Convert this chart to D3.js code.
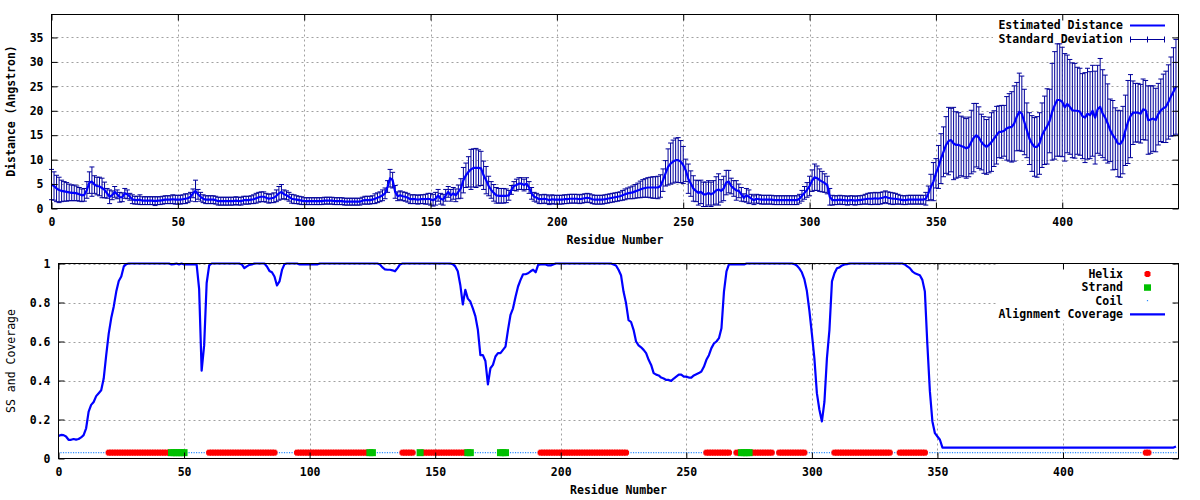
<!DOCTYPE html>
<html>
<head>
<meta charset="utf-8">
<script src="https://cdn.jsdelivr.net/npm/d3@7"></script>
<style>
  html, body { margin: 0; padding: 0; background: #fff; }
  svg { display: block; }
  text { font-family: "DejaVu Sans Mono", "Liberation Mono", monospace; font-size: 11.5px; font-weight: bold; fill: #000; }
</style>
</head>
<body>
<svg id="chart" width="1200" height="500"></svg>
<script>
// ---------------- DATA ----------------
const xTicks = [0, 50, 100, 150, 200, 250, 300, 350, 400];
const yTicksTop = [0, 5, 10, 15, 20, 25, 30, 35];
const yTicksBottom = [0, 0.2, 0.4, 0.6, 0.8, 1];
const yTickLabelsBottom = ["0", "0.2", "0.4", "0.6", "0.8", "1"];

const topLegend = ["Estimated Distance", "Standard Deviation"];
const bottomLegend = ["Helix", "Strand", "Coil", "Alignment Coverage"];

// Estimated distance per residue (0..445)
const distMean = [
4.9,4.6,4.1,3.8,3.6,3.5,3.4,3.3,3.2,3.2,
3.1,2.9,2.7,2.8,3.8,5.3,5.5,4.9,4.6,4.5,
4.2,3.8,3.1,2.4,2.7,3.4,2.9,2.3,2.3,3.1,
2.9,2.4,1.9,1.7,1.7,1.8,1.6,1.6,1.6,1.6,
1.6,1.5,1.6,1.6,1.7,1.8,1.8,1.8,1.9,1.8,
1.8,1.8,1.9,2.0,2.1,2.4,3.1,3.6,2.9,2.4,
2.0,1.8,1.8,1.8,1.8,1.7,1.5,1.5,1.5,1.5,
1.5,1.5,1.5,1.6,1.5,1.5,1.7,1.7,1.7,1.8,
1.9,2.1,2.3,2.4,2.4,2.2,2.0,2.1,2.2,2.6,
3.1,3.4,2.9,2.7,2.4,2.0,1.9,1.8,1.7,1.6,
1.5,1.5,1.5,1.5,1.5,1.5,1.5,1.5,1.6,1.6,
1.6,1.6,1.5,1.5,1.5,1.5,1.4,1.4,1.4,1.4,
1.4,1.4,1.4,1.6,1.7,1.7,1.7,1.8,2.0,2.2,
2.4,2.7,3.1,4.5,6.2,5.8,3.4,2.5,2.7,2.5,
2.4,2.2,1.9,1.9,1.9,1.8,1.9,1.9,1.9,2.0,
1.9,1.7,2.0,2.7,2.0,1.8,2.7,3.4,2.7,3.1,
2.7,3.4,4.1,5.8,6.8,7.5,8.0,8.3,8.3,8.3,
8.2,6.8,5.8,4.6,3.8,3.2,2.7,2.6,2.6,2.6,
2.6,2.7,3.8,4.6,4.8,5.1,5.1,4.8,5.1,4.3,
3.1,2.4,2.2,1.9,1.9,2.0,1.9,1.7,1.9,1.8,
1.8,1.8,1.8,1.9,1.9,2.0,2.0,2.0,2.0,1.9,
2.0,2.1,2.2,2.1,1.9,1.8,1.8,1.8,1.8,1.9,
2.0,2.1,2.2,2.3,2.4,2.5,2.7,2.9,3.1,3.2,
3.3,3.5,3.7,3.9,4.1,4.2,4.3,4.3,4.3,4.3,
4.3,4.6,5.8,7.2,8.5,9.2,9.6,9.9,9.9,9.6,
8.9,7.8,6.1,5.1,4.1,3.6,3.2,3.4,2.9,2.9,
3.2,2.9,3.2,3.7,3.9,3.6,4.1,5.3,5.5,4.6,
4.1,3.7,3.6,2.9,2.2,2.7,2.4,2.0,1.7,2.0,
1.9,1.8,1.8,1.8,1.8,1.8,1.7,1.7,1.7,1.7,
1.7,1.7,1.7,1.7,1.7,1.7,2.0,2.6,3.2,3.8,
4.6,5.7,6.4,6.2,5.8,5.5,5.2,4.8,2.4,1.7,
1.7,1.7,1.8,1.7,1.7,1.6,1.7,1.7,1.6,1.7,
1.7,1.8,1.9,2.0,2.0,2.0,2.1,2.0,2.1,2.2,
2.4,2.2,2.1,2.0,2.0,1.9,1.8,1.7,1.7,1.8,
1.8,1.8,1.8,1.8,1.8,1.8,2.0,3.1,4.4,5.5,
7.2,8.5,10.2,11.6,13.0,13.8,14.0,13.3,13.0,13.0,
12.8,12.6,12.3,12.6,13.6,14.5,15.0,14.5,13.6,13.0,
12.6,13.0,13.6,14.3,15.0,15.7,15.7,15.9,16.4,16.6,
16.7,17.4,18.8,19.8,19.4,17.7,16.0,14.3,13.3,12.6,
12.6,13.3,15.0,16.0,16.8,17.9,19.8,21.1,22.2,22.2,
21.8,20.7,21.4,20.8,20.1,20.0,20.0,19.8,18.9,18.6,
19.4,19.1,20.0,18.6,20.3,20.8,19.4,18.6,17.4,16.0,
15.0,14.3,13.3,13.2,14.0,16.0,17.7,18.9,19.6,19.6,
19.6,19.4,20.3,20.1,18.1,18.2,18.4,18.1,19.3,20.1,
20.5,20.8,21.8,22.9,23.9,24.9
];

// Standard deviation per residue (0..445)
const distStd = [
3.1,2.9,2.7,2.6,2.2,2.0,1.9,1.7,1.6,1.6,
1.5,1.4,1.3,1.3,1.7,2.2,3.0,1.8,1.8,1.9,
2.0,1.6,1.0,1.4,0.9,1.1,0.9,1.0,0.9,1.0,
0.9,0.7,0.9,0.8,0.8,1.0,0.8,0.8,0.8,0.8,
0.8,0.9,0.8,0.8,0.8,0.8,0.8,0.8,0.9,0.9,
0.9,0.9,0.9,1.0,0.9,0.9,0.9,2.2,1.0,0.9,
0.8,0.8,0.8,0.8,0.8,0.8,0.8,0.8,0.8,0.8,
0.8,0.8,0.8,0.8,0.8,0.8,0.8,0.8,0.8,0.8,
0.9,1.0,1.0,1.0,1.0,0.9,0.9,0.9,1.0,1.2,
1.4,1.5,0.9,0.9,0.9,0.9,0.9,0.8,0.8,0.8,
0.7,0.7,0.7,0.7,0.7,0.7,0.7,0.7,0.7,0.7,
0.7,0.7,0.7,0.7,0.7,0.7,0.7,0.7,0.7,0.7,
0.7,0.7,0.7,0.7,0.8,0.8,0.8,0.8,1.0,1.0,
1.0,1.1,1.1,1.2,1.8,1.6,1.3,0.9,0.9,0.9,
0.9,0.9,0.9,0.9,0.9,0.9,0.9,0.9,1.0,1.1,
1.2,1.2,1.3,1.2,1.1,1.1,1.2,1.1,1.2,1.2,
1.3,1.4,2.0,2.6,2.5,3.1,4.1,3.9,4.0,3.7,
3.5,2.9,2.8,2.0,1.7,1.7,1.6,1.5,1.5,1.5,
1.4,1.0,0.9,0.9,1.2,1.2,1.2,1.2,1.2,1.2,
1.2,0.9,0.9,0.9,0.9,0.9,0.9,0.9,0.9,0.9,
0.9,0.9,0.9,0.9,0.9,0.9,0.9,0.9,0.9,0.9,
0.9,0.9,0.9,0.9,0.9,0.9,0.9,0.9,0.9,0.9,
0.9,0.9,0.9,0.9,0.9,0.9,1.0,1.1,1.1,1.2,
1.3,1.4,1.5,1.7,1.8,1.9,2.0,2.1,2.2,2.2,
2.3,2.3,2.3,2.6,3.7,4.2,4.4,4.5,4.6,4.3,
3.8,2.3,3.0,2.6,2.6,2.2,2.5,2.4,2.5,2.5,
2.5,2.5,2.5,2.8,3.2,2.3,2.5,2.5,2.3,1.6,
1.6,2.0,1.4,1.4,0.8,1.4,1.4,0.9,0.9,0.9,
0.9,0.9,0.9,0.9,0.9,0.9,0.9,0.9,0.9,0.9,
0.9,0.9,0.9,0.9,0.9,0.9,0.9,1.1,1.3,1.5,
2.0,2.2,2.7,2.5,2.3,2.1,1.9,1.8,1.7,1.0,
0.9,0.9,0.9,0.9,0.9,0.9,0.9,0.9,0.9,0.9,
0.9,0.9,1.0,1.1,1.2,1.2,1.2,1.2,1.2,1.2,
1.2,1.2,1.2,1.2,1.1,1.0,0.9,0.9,0.9,0.9,
0.9,0.9,0.9,0.9,0.9,0.9,1.3,1.5,2.6,3.9,
3.0,4.4,5.1,5.1,5.8,6.9,6.5,7.4,6.8,6.6,
6.1,6.1,6.1,6.1,6.5,7.0,6.5,6.3,5.7,5.8,
5.6,5.7,6.0,5.7,5.9,5.3,5.4,5.2,6.5,6.9,
7.2,7.7,7.0,7.9,7.7,6.7,5.6,5.3,5.7,6.0,
6.2,6.3,6.6,7.0,7.7,6.5,9.9,11.0,11.5,11.5,
11.2,11.0,10.0,9.7,9.7,9.7,8.9,8.9,8.7,9.2,
9.3,8.9,9.3,9.5,9.0,9.9,9.0,8.7,8.1,6.4,
7.1,6.3,6.8,6.8,6.9,7.2,8.5,8.5,6.5,6.0,
6.0,6.0,6.2,6.1,7.0,6.9,6.7,6.5,6.3,6.4,
7.0,7.3,7.6,8.1,9.0,9.7
];

// Alignment coverage per residue (0..445)
const coverage = [
.116,.121,.12,.113,.096,.096,.1,.097,.1,.108,
.12,.155,.24,.275,.29,.32,.335,.35,.41,.53,
.64,.72,.78,.856,.91,.933,.985,.997,1,1,
1,1,1,1,1,1,1,1,1,1,
1,1,1,1,1,.995,.997,1,.995,1,
.995,.995,.995,.995,.995,.995,.87,.45,.58,.9,
.99,1,1,1,1,1,1,1,1,1,
1,1,1,.995,.976,.985,.993,.995,1,1,
1,1,1,.985,.962,.955,.933,.887,.908,.967,
.997,1,1,1,1,1,.995,.995,.995,.995,
.995,.995,.995,.995,1,1,1,1,1,1,
1,1,1,1,1,1,1,1,1,1,
1,1,1,1,1,1,1,1,.995,.98,
.97,.968,.968,.965,.96,.976,.995,1,1,1,
1,1,1,1,1,1,1,1,1,1,
1,1,1,1,1,1,1,.997,.985,.96,
.89,.79,.865,.82,.805,.77,.73,.66,.53,.53,
.5,.38,.463,.48,.523,.54,.54,.557,.574,.66,
.737,.77,.83,.882,.916,.945,.945,.95,.96,.968,
.955,.993,.995,.995,.995,.99,.99,.995,1,1,
1,1,1,1,1,1,1,1,1,1,
1,1,1,1,1,1,1,1,1,1,
1,.995,.99,.968,.94,.856,.797,.71,.70,.66,
.6,.58,.57,.557,.54,.506,.48,.438,.43,.426,
.415,.41,.403,.403,.398,.41,.42,.43,.43,.42,
.42,.415,.415,.426,.432,.438,.446,.47,.506,.53,
.566,.59,.6,.617,.668,.856,.96,.997,.995,.995,
.995,.995,.995,.995,1,1,1,1,1,1,
1,1,1,1,1,1,1,1,1,1,
1,1,1,.997,.99,.975,.955,.92,.86,.76,
.64,.515,.335,.25,.19,.29,.515,.66,.908,.95,
.976,.98,.99,.995,.997,1,1,1,1,1,
1,1,1,1,1,1,1,1,1,1,
1,1,1,1,1,1,1,.995,.985,.976,
.96,.95,.945,.94,.916,.856,.583,.344,.19,.13,
.113,.096,.056,.056,.056,.056,.056,.056,.056,.056,
.056,.056,.056,.056,.056,.056,.056,.056,.056,.056,
.056,.056,.056,.056,.056,.056,.056,.056,.056,.056,
.056,.056,.056,.056,.056,.056,.056,.056,.056,.056,
.056,.056,.056,.056,.056,.056,.056,.056,.056,.056,
.056,.056,.056,.056,.056,.056,.056,.056,.056,.056,
.056,.056,.056,.056,.056,.056,.056,.056,.056,.056,
.056,.056,.056,.056,.056,.056,.056,.056,.056,.056,
.056,.056,.056,.056,.056,.056,.056,.056,.056,.056,
.056,.056,.056,.056,.056,.062
];

// Secondary structure ranges (residue numbers, inclusive)
const helixRanges = [[20,44],[60,86],[95,123],[137,141],[145,162],[192,226],[258,267],[270,271],[276,284],[287,297],[309,331],[335,345],[433,434]];
const strandRanges = [[45,50],[124,125],[144,144],[163,164],[176,178],[272,275]];
const residueCount = 445;
const ssLevel = 0.03;

// ---------------- DRAWING ----------------
const svg = d3.select("#chart");
const GRID = "#a0a0a0";
const TICK = 6;

function ssResidues(ranges) {
  const out = [];
  ranges.forEach(([a, b]) => { for (let r = a; r <= b; r++) out.push(r); });
  return out;
}

function frame(g, x, y, yTicks, yLabels, keyBox) {
  const [x0, x1] = x.range();
  const [y0, y1] = y.range(); // y0 bottom, y1 top
  // grid
  const grid = g.append("g").attr("stroke", GRID).attr("stroke-width", 1).attr("stroke-dasharray", "2,3");
  xTicks.filter(t => t > x.domain()[0]).forEach(t => {
    grid.append("line").attr("x1", Math.round(x(t)) + 0.5).attr("x2", Math.round(x(t)) + 0.5)
      .attr("y1", y1).attr("y2", y0);
  });
  yTicks.filter(t => t > y.domain()[0]).forEach(t => {
    grid.append("line").attr("y1", Math.round(y(t)) + 0.5).attr("y2", Math.round(y(t)) + 0.5)
      .attr("x1", x0).attr("x2", x1);
  });
  // key background blanks the grid
  g.append("rect").attr("x", keyBox[0]).attr("y", keyBox[1])
    .attr("width", keyBox[2] - keyBox[0]).attr("height", keyBox[3] - keyBox[1]).attr("fill", "#fff");
}

function axes(g, x, y, yTicks, yLabels) {
  const [x0, x1] = x.range();
  const [y0, y1] = y.range();
  const fmtY = (d, i) => yLabels[i];
  const b = g.append("g").attr("transform", `translate(0,${y0})`)
    .call(d3.axisBottom(x).tickValues(xTicks).tickSizeInner(-TICK).tickSizeOuter(0).tickPadding(9.5));
  const t = g.append("g").attr("transform", `translate(0,${y1})`)
    .call(d3.axisTop(x).tickValues(xTicks).tickSizeInner(-TICK).tickSizeOuter(0).tickFormat(""));
  const l = g.append("g").attr("transform", `translate(${x0},0)`)
    .call(d3.axisLeft(y).tickValues(yTicks).tickSizeInner(-TICK).tickSizeOuter(0).tickPadding(8).tickFormat(fmtY));
  const r = g.append("g").attr("transform", `translate(${x1},0)`)
    .call(d3.axisRight(y).tickValues(yTicks).tickSizeInner(-TICK).tickSizeOuter(0).tickFormat(""));
  [b, t, l, r].forEach(a => {
    a.select(".domain").remove();
    a.selectAll("line").attr("stroke", "#000").attr("stroke-width", 1);
    a.selectAll("text").attr("font-family", null).attr("font-size", null).style("fill", "#000");
    a.attr("font-family", null).attr("font-size", null);
  });
  // border
  g.append("rect").attr("x", x0).attr("y", y1).attr("width", x1 - x0).attr("height", y0 - y1)
    .attr("fill", "none").attr("stroke", "#000").attr("stroke-width", 1);
}

// ---------- TOP PANEL ----------
const xT = d3.scaleLinear().domain([0, 446]).range([51.5, 1178.5]);
const yT = d3.scaleLinear().domain([0, 39.7]).range([208.5, 14.5]);
const gT = svg.append("g");
frame(gT, xT, yT, yTicksTop, yTicksTop.map(String), [993, 14.5, 1172, 46]);

const residues = distMean.map((d, i) => i);
const ERR = "#00009a";
const eb = gT.append("g").attr("stroke", ERR).attr("stroke-width", 1).attr("fill", "none");
residues.forEach(i => {
  const cx = xT(i);
  const lo = yT(distMean[i] - distStd[i]);
  const hi = yT(distMean[i] + distStd[i]);
  eb.append("line").attr("x1", cx).attr("x2", cx).attr("y1", lo).attr("y2", hi);
  eb.append("line").attr("x1", cx - 2.5).attr("x2", cx + 2.5).attr("y1", lo).attr("y2", lo);
  eb.append("line").attr("x1", cx - 2.5).attr("x2", cx + 2.5).attr("y1", hi).attr("y2", hi);
});
gT.append("path").datum(residues)
  .attr("d", d3.line().x(i => xT(i)).y(i => yT(distMean[i])))
  .attr("fill", "none").attr("stroke", "#0000ff").attr("stroke-width", 2.2).attr("stroke-linejoin", "round");

axes(gT, xT, yT, yTicksTop, yTicksTop.map(String));

// top legend
const keyTextX = 1123, keyS0 = 1130, keyS1 = 1165;
const kT = gT.append("g");
kT.append("text").attr("x", keyTextX).attr("y", 25).attr("dy", "0.35em").attr("text-anchor", "end").text(topLegend[0]);
kT.append("line").attr("x1", keyS0).attr("x2", keyS1).attr("y1", 25.5).attr("y2", 25.5).attr("stroke", "#0000ff").attr("stroke-width", 2.2);
kT.append("text").attr("x", keyTextX).attr("y", 38.7).attr("dy", "0.35em").attr("text-anchor", "end").text(topLegend[1]);
const ks = kT.append("g").attr("stroke", ERR).attr("stroke-width", 1);
ks.append("line").attr("x1", keyS0).attr("x2", keyS1).attr("y1", 39.5).attr("y2", 39.5);
[keyS0 + 0.5, (keyS0 + keyS1) / 2, keyS1 - 0.5].forEach(xx => {
  ks.append("line").attr("x1", xx).attr("x2", xx).attr("y1", 36.5).attr("y2", 42.5);
});

gT.append("text").attr("x", (51.5 + 1178.5) / 2).attr("y", 240).attr("dy", "0.35em").attr("text-anchor", "middle").text("Residue Number");
gT.append("text").attr("transform", "translate(11,111) rotate(-90)").attr("dy", "0.35em").attr("text-anchor", "middle").text("Distance (Angstron)");

// ---------- BOTTOM PANEL ----------
const xB = d3.scaleLinear().domain([0, 446]).range([58.5, 1178.5]);
const yB = d3.scaleLinear().domain([0, 1]).range([458.5, 263.5]);
const gB = svg.append("g");
frame(gB, xB, yB, yTicksBottom, yTickLabelsBottom, [996, 263.5, 1172, 320]);

const helixRes = ssResidues(helixRanges);
const strandRes = ssResidues(strandRanges);
const ssSet = new Set(helixRes.concat(strandRes));
const coilRes = d3.range(1, residueCount + 1).filter(r => !ssSet.has(r));

const COIL = "#2a8cff", HELIX = "#ff0000", STRAND = "#00c000";
const yss = yB(ssLevel);
gB.append("g").selectAll("rect").data(coilRes).join("rect")
  .attr("x", r => xB(r) - 0.6).attr("y", yss - 0.6).attr("width", 1.2).attr("height", 1.2).attr("fill", COIL);
const hg = gB.append("g").attr("fill", HELIX);
helixRes.forEach(r => {
  hg.append("rect").attr("x", xB(r) - 2).attr("y", yss - 3).attr("width", 4).attr("height", 6);
  hg.append("rect").attr("x", xB(r) - 3).attr("y", yss - 2).attr("width", 6).attr("height", 4);
});
gB.append("g").selectAll("rect").data(strandRes).join("rect")
  .attr("x", r => xB(r) - 3.5).attr("y", yss - 3.5).attr("width", 7).attr("height", 7).attr("fill", STRAND);

gB.append("path").datum(coverage)
  .attr("d", d3.line().x((d, i) => xB(i)).y(d => yB(d)))
  .attr("fill", "none").attr("stroke", "#0000ff").attr("stroke-width", 2.2).attr("stroke-linejoin", "round");

axes(gB, xB, yB, yTicksBottom, yTickLabelsBottom);

// bottom legend
const kB = gB.append("g");
const rowsB = [274, 287.3, 300.6, 313.9];
bottomLegend.forEach((lab, i) => {
  kB.append("text").attr("x", keyTextX).attr("y", rowsB[i]).attr("dy", "0.35em").attr("text-anchor", "end").text(lab);
});
const kc = (keyS0 + keyS1) / 2;
kB.append("rect").attr("x", kc - 2).attr("y", rowsB[0] - 3).attr("width", 4).attr("height", 6).attr("fill", HELIX);
kB.append("rect").attr("x", kc - 3).attr("y", rowsB[0] - 2).attr("width", 6).attr("height", 4).attr("fill", HELIX);
kB.append("rect").attr("x", kc - 3.5).attr("y", rowsB[1] - 3).attr("width", 7).attr("height", 6.5).attr("fill", STRAND);
kB.append("rect").attr("x", kc - 0.6).attr("y", rowsB[2] - 0.6).attr("width", 1.2).attr("height", 1.2).attr("fill", COIL);
kB.append("line").attr("x1", keyS0).attr("x2", keyS1).attr("y1", rowsB[3] + 0.5).attr("y2", rowsB[3] + 0.5).attr("stroke", "#0000ff").attr("stroke-width", 2.2);

gB.append("text").attr("x", (58.5 + 1178.5) / 2).attr("y", 490).attr("dy", "0.35em").attr("text-anchor", "middle").text("Residue Number");
gB.append("text").attr("transform", "translate(11,361) rotate(-90)").attr("dy", "0.35em").attr("text-anchor", "middle").style("font-weight", "normal").text("SS and Coverage");
</script>
</body>
</html>
